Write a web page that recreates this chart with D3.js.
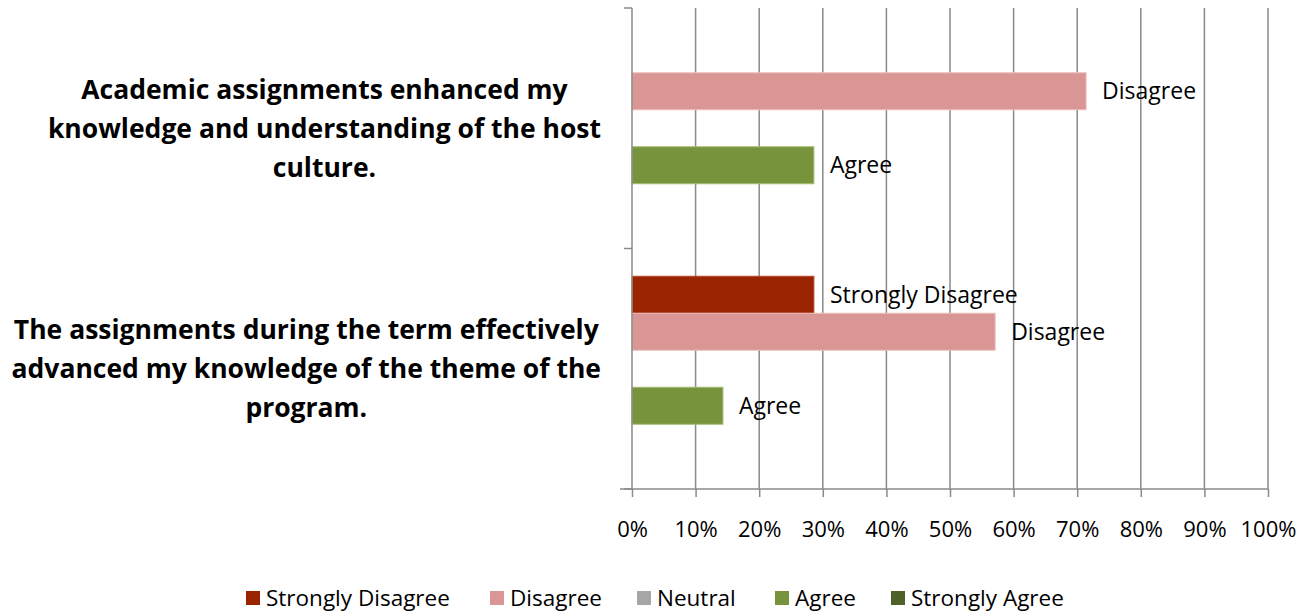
<!DOCTYPE html>
<html>
<head>
<meta charset="utf-8">
<script src="https://cdn.jsdelivr.net/npm/d3@7"></script>
<style>
  body { margin: 0; background: #fff; }
</style>
</head>
<body>
<script>
const W = 1310
const H = 616
const margin = { left: 632, top: 8, right: 42, bottom: 127 }
const width = W - margin.left - margin.right
const height = H - margin.top - margin.bottom

const categories = [
  'Academic assignments enhanced my knowledge and understanding of the host culture.',
  'The assignments during the term effectively advanced my knowledge of the theme of the program.'
]
const catLines = [
  ['Academic assignments enhanced my', 'knowledge and understanding of the host', 'culture.'],
  ['The assignments during the term effectively', 'advanced my knowledge of the theme of the', 'program.']
]
const seriesNames = ['Strongly Disagree', 'Disagree', 'Neutral', 'Agree', 'Strongly Agree']
const colors = ['#9a2400', '#d99694', '#a6a6a6', '#77933c', '#4f6228']
const strokes = ['#b84a2c', '#edbebd', '#c4c4c4', '#a3bd72', '#6f8646']
// share of respondents per series, one array per category (0 = no bar)
const values = [
  [0, 0.714, 0, 0.286, 0],
  [0.286, 0.571, 0, 0.143, 0]
]
const ticks = [0, 0.1, 0.2, 0.3, 0.4, 0.5, 0.6, 0.7, 0.8, 0.9, 1]

const font = '"Open Sans", Lato, sans-serif'
const grey = '#8a8a8a'

const svg = d3.select('body').append('svg')
  .attr('width', W)
  .attr('height', H)
  .style('font-family', font)

const g = svg.append('g').attr('transform', `translate(${margin.left},${margin.top})`)

const x = d3.scaleLinear().domain([0, 1]).range([0, width])
const y = d3.scaleBand().domain(categories).range([0, height])
const ys = d3.scaleBand().domain(seriesNames).range([0, y.bandwidth()]).paddingOuter(0.75)

// vertical gridlines
g.append('g').selectAll('line')
  .data(ticks.slice(1))
  .enter().append('line')
  .attr('x1', d => x(d)).attr('x2', d => x(d))
  .attr('y1', 0).attr('y2', height)
  .attr('stroke', grey).attr('stroke-width', 1.5)

// bars
const rows = categories.map((c, ci) => seriesNames.map((s, si) => ({ c, s, si, v: values[ci][si] }))).flat()
  .filter(d => d.v > 0)

g.append('g').selectAll('rect')
  .data(rows)
  .enter().append('rect')
  .attr('x', 0)
  .attr('y', d => y(d.c) + ys(d.s))
  .attr('width', d => x(d.v))
  .attr('height', ys.bandwidth())
  .attr('fill', d => colors[d.si])
  .attr('stroke', d => strokes[d.si])
  .attr('stroke-width', 1)

g.append('g').selectAll('text')
  .data(rows)
  .enter().append('text')
  .attr('x', d => x(d.v) + 16)
  .attr('y', d => y(d.c) + ys(d.s) + ys.bandwidth() / 2)
  .attr('dy', '0.35em')
  .style('font-size', '23px')
  .style('fill', '#000')
  .text(d => d.s)

// x axis
g.append('g')
  .attr('transform', `translate(0,${height})`)
  .call(d3.axisBottom(x).tickValues(ticks).tickFormat(d3.format('.0%')).tickSize(8).tickPadding(24))
  .call(a => a.select('.domain').attr('d', `M-12,0H${width}`))
  .call(a => a.selectAll('line, path').attr('stroke', grey).attr('stroke-width', 1.5))
  .call(a => a.selectAll('text').style('font-size', '22px').style('font-family', font).attr('fill', '#000'))

// y axis (category separators)
g.append('g')
  .call(d3.axisLeft(y).tickValues([]).tickSizeOuter(0))
  .call(a => a.select('.domain').attr('d', `M0,0V${height}`))
  .call(a => a.selectAll('path').attr('stroke', grey).attr('stroke-width', 1.5))
g.append('g').selectAll('line')
  .data([0, y.bandwidth(), height])
  .enter().append('line')
  .attr('x1', -8).attr('x2', 0)
  .attr('y1', d => d).attr('y2', d => d)
  .attr('stroke', grey).attr('stroke-width', 1.5)

// category labels: block right edge at 601, lines centered in block
const labelRight = 601 - margin.left
categories.forEach((c, ci) => {
  const lab = g.append('g')
  const lines = catLines[ci]
  const texts = lines.map((l, li) => lab.append('text')
    .attr('y', y(c) + y.bandwidth() / 2 + (li - 1) * 39)
    .attr('dy', '0.35em')
    .style('font-size', '26.5px')
    .style('font-weight', 'bold')
    .attr('text-anchor', 'middle')
    .text(l))
  const bw = d3.max(texts, t => t.node().getComputedTextLength())
  texts.forEach(t => t.attr('x', labelRight - bw / 2))
})

// legend
const legX = [246, 490, 637, 775, 891]
const leg = svg.append('g')
seriesNames.forEach((s, i) => {
  leg.append('rect')
    .attr('x', legX[i]).attr('y', 591)
    .attr('width', 14).attr('height', 14)
    .attr('fill', colors[i])
  leg.append('text')
    .attr('x', legX[i] + 20).attr('y', 598)
    .attr('dy', '0.35em')
    .style('font-size', '22.5px')
    .text(s)
})
</script>
</body>
</html>
